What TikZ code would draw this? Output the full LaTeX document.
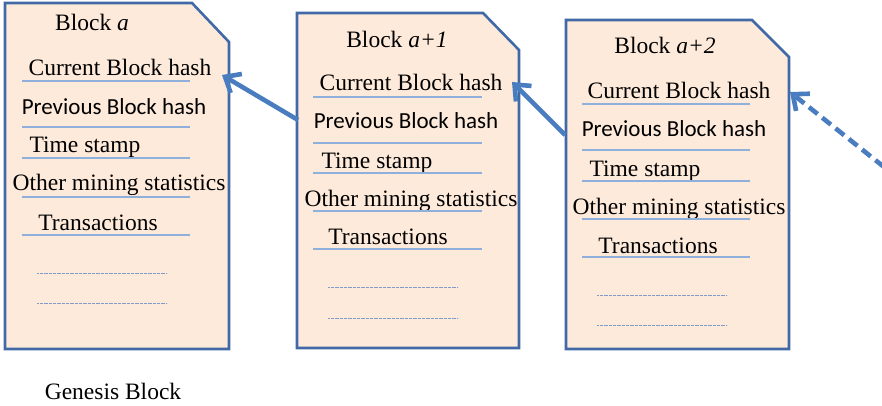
\documentclass[tikz,border=0pt]{standalone}
\usepackage{fontspec}
\setmainfont{Liberation Serif}
\newfontfamily\calfont{Carlito}
\usetikzlibrary{arrows.meta}
\definecolor{blockfill}{HTML}{FDEADA}
\definecolor{blockline}{HTML}{4169A8}
\definecolor{ulcol}{HTML}{8FB0DA}
\definecolor{dotcol}{HTML}{7F9CC8}
\definecolor{arrcol}{HTML}{4A7DC0}
\tikzset{
  blockshape/.style={fill=blockfill, draw=blockline, line width=2.6pt, line join=miter},
  txt/.style={anchor=base, inner sep=0pt, font=\fontsize{23.5}{27}\selectfont},
  caltxt/.style={txt, font=\fontsize{23}{27}\selectfont\calfont},
  uline/.style={draw=ulcol, line width=1.2pt},
  dline/.style={draw=dotcol, line width=0.9pt, dash pattern=on 0.8pt off 0.5pt},
  chainarrow/.style={draw=arrcol, line width=4.6pt, -{Straight Barb[length=13pt,width=22pt,line width=4.6pt]}},
}
\begin{document}
\begin{tikzpicture}[x=1pt,y=-1pt]
\useasboundingbox (0,0) rectangle (882,406);
% Block a
\path[blockshape] (5,3) -- (192,3) -- (229,42) -- (229,349) -- (5,349) -- cycle;
\node[txt] (ta) at (92,31) {Block \textit{a}};
\node[txt] (ca) at (120,76) {Current Block hash};
\node[caltxt] (pa) at (114,115) {Previous Block hash};
\node[txt] (sa) at (85,153) {Time stamp};
\node[txt] (oa) at (119,190) {Other mining statistics};
\node[txt] (xa) at (98,230) {Transactions};
\foreach \y in {81,127,158,197,235} \draw[uline] (22,\y) -- (190,\y);
\foreach \y in {273,303} \draw[dline] (37,\y) -- (167,\y);
% Block a+1
\path[blockshape] (297,13) -- (483,13) -- (519,50) -- (519,348) -- (297,348) -- cycle;
\node[txt] (tb) at (397,48) {Block \textit{a+1}};
\node[txt] (cb) at (411,91) {Current Block hash};
\node[caltxt] (pb) at (406,129) {Previous Block hash};
\node[txt] (sb) at (377,168) {Time stamp};
\node[txt] (ob) at (411,206) {Other mining statistics};
\node[txt] (xb) at (388,244) {Transactions};
\foreach \y in {97,143,173,211,249} \draw[uline] (313,\y) -- (482,\y);
\foreach \y in {287,318} \draw[dline] (328,\y) -- (458,\y);
% Block a+2
\path[blockshape] (566,20) -- (752,20) -- (789,57) -- (789,349) -- (566,349) -- cycle;
\node[txt] (tc) at (665,54) {Block \textit{a+2}};
\node[txt] (cc) at (679,99) {Current Block hash};
\node[caltxt] (pc) at (674,137) {Previous Block hash};
\node[txt] (sc) at (645,176) {Time stamp};
\node[txt] (oc) at (679,214) {Other mining statistics};
\node[txt] (xc) at (658,253) {Transactions};
\foreach \y in {104,150,181,219,257} \draw[uline] (582,\y) -- (750,\y);
\foreach \y in {295,325} \draw[dline] (597,\y) -- (727,\y);
% Genesis label
\node[txt] (gen) at (113,399) {Genesis Block};
% connectors
\coordinate (tipA) at (222,75);
\coordinate (tailB) at (298,120);
\coordinate (tipB) at (512,82);
\coordinate (tailC) at (565,135);
\coordinate (tipC) at (790,92);
\coordinate (tailD) at (884,167);
\draw[chainarrow] (tailB) -- (tipA);
\draw[chainarrow] (tailC) -- (tipB);
\draw[chainarrow, dash pattern=on 11pt off 6pt] (tailD) -- (tipC);
\end{tikzpicture}
\end{document}
